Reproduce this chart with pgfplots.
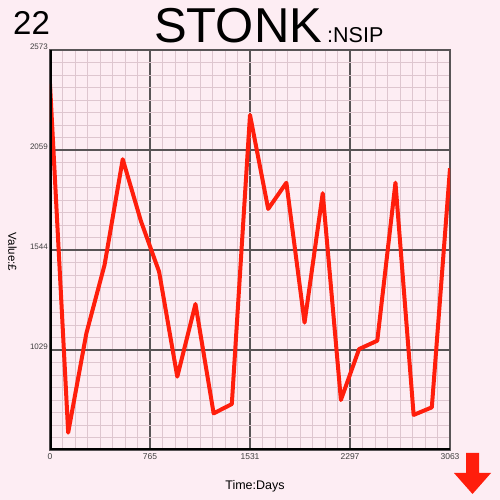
\documentclass[border=0pt]{standalone}
\usepackage{fontspec}
\setmainfont{Liberation Sans}
\usepackage{pgfplots}
\pgfplotsset{compat=1.18}
\definecolor{bgpink}{RGB}{253,237,243}
\definecolor{minorgrid}{RGB}{222,198,207}
\definecolor{majorgrid}{RGB}{88,84,86}
\definecolor{stonkred}{RGB}{255,30,12}
\begin{document}
\begin{tikzpicture}[x=1pt,y=1pt]
\useasboundingbox (0,0) rectangle (500,500);
\fill[bgpink] (0,0) rectangle (500,500);
\begin{axis}[
  at={(50pt,50pt)}, anchor=south west,
  scale only axis, width=400pt, height=400pt,
  xmin=0, xmax=3063, ymin=514.6, ymax=2573,
  xtick={0,765.75,1531.5,2297.25,3063},
  xticklabels={0,765,1531,2297,3063},
  ytick={514.6,1029.2,1543.8,2058.4,2573},
  yticklabels={,1029,1544,2059,2573},
  minor tick num=7,
  grid=both,
  major grid style={draw=majorgrid, line width=1.3pt},
  minor grid style={draw=minorgrid, line width=0.9pt},
  axis line style={draw=majorgrid, line width=1.3pt},
  tick style={draw=none},
  /pgf/number format/assume math mode=true,
  xticklabel style={font=\fontsize{8.5}{9}\selectfont, text=black!75, anchor=north, inner sep=0pt, yshift=-3pt},
  yticklabel style={font=\fontsize{8}{9}\selectfont, text=black!75, anchor=south east, inner sep=0pt, xshift=-2pt},
  axis background/.style={fill=bgpink},
]
\addplot[draw=stonkred, line width=4pt, line join=round, mark=none] coordinates {
(0,2398) (139.2,604) (278.5,1115) (417.7,1467) (556.9,2011) (696.1,1693)
(835.4,1432) (974.6,892) (1113.8,1266) (1253.0,703) (1392.3,751) (1531.5,2239)
(1670.7,1755) (1810.0,1890) (1949.2,1170) (2088.4,1836) (2227.6,772) (2366.9,1034)
(2506.1,1077) (2645.3,1890) (2784.5,695) (2923.8,734) (3063,1964)
};
\draw[black, line width=3.2pt] (rel axis cs:0,1) -- (rel axis cs:0,0) -- (rel axis cs:1,0);
\end{axis}
\node[anchor=base west, inner sep=0pt, font=\fontsize{33}{36}\selectfont] at (13,465) {22};
\node[anchor=base west, inner sep=0pt, font=\fontsize{49}{52}\selectfont] at (154,457) {STONK};
\node[anchor=base west, inner sep=0pt, font=\fontsize{21.5}{24}\selectfont] at (327,457) {:NSIP};
\node[rotate=-90, inner sep=0pt, font=\fontsize{11.5}{13}\selectfont] at (12.5,248) {Value:£};
\node[anchor=base, inner sep=0pt, font=\fontsize{12.5}{14}\selectfont] at (255,10) {Time:Days};
\fill[stonkred] (466,47) -- (479,47) -- (479,27) -- (491,27) -- (472.5,6) -- (454,27) -- (466,27) -- cycle;
\end{tikzpicture}
\end{document}
